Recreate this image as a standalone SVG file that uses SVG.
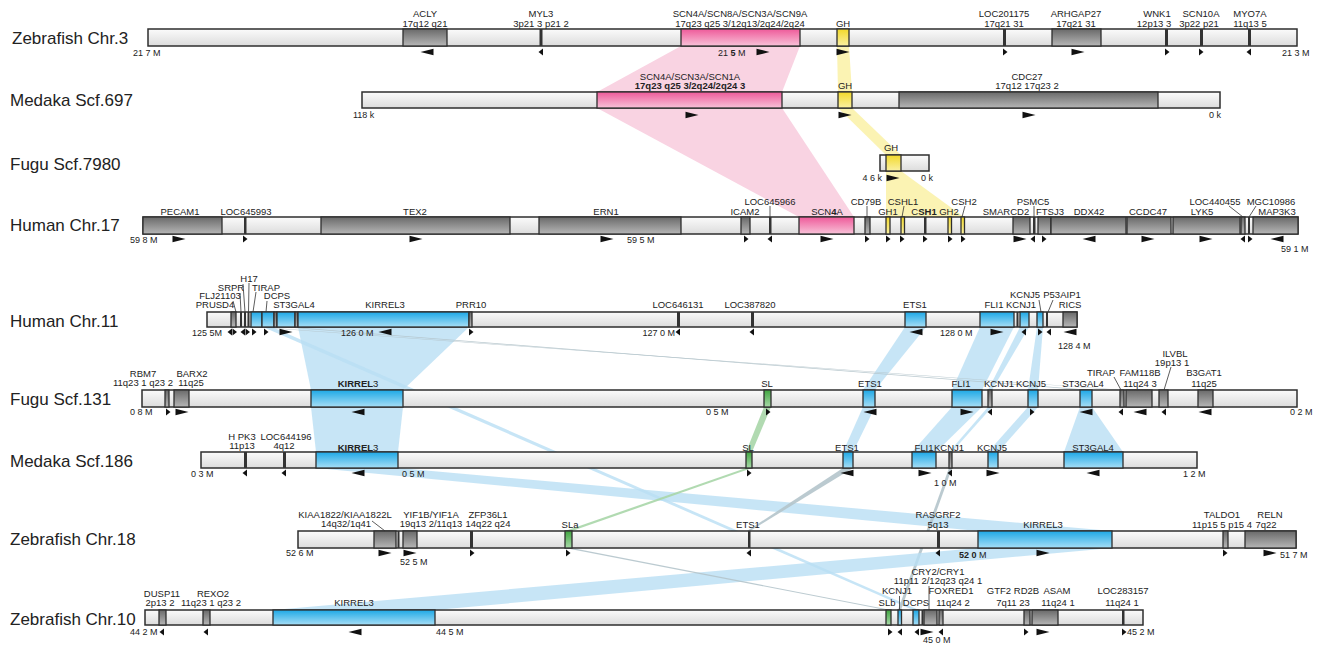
<svg xmlns="http://www.w3.org/2000/svg" width="1320" height="646" viewBox="0 0 1320 646">
<defs>
<linearGradient id="gL" x1="0" y1="0" x2="0" y2="1"><stop offset="0" stop-color="#fbfbfb"/><stop offset="1" stop-color="#dcdcdc"/></linearGradient>
<linearGradient id="gD" x1="0" y1="0" x2="0" y2="1"><stop offset="0" stop-color="#6a6a6a"/><stop offset="1" stop-color="#b6b6b6"/></linearGradient>
<linearGradient id="gP" x1="0" y1="0" x2="0" y2="1"><stop offset="0" stop-color="#ee5a9a"/><stop offset="1" stop-color="#f8c2d8"/></linearGradient>
<linearGradient id="gY" x1="0" y1="0" x2="0" y2="1"><stop offset="0" stop-color="#f2d92a"/><stop offset="1" stop-color="#faf0a2"/></linearGradient>
<linearGradient id="gB" x1="0" y1="0" x2="0" y2="1"><stop offset="0" stop-color="#1ea8e6"/><stop offset="1" stop-color="#a6def6"/></linearGradient>
<linearGradient id="gG" x1="0" y1="0" x2="0" y2="1"><stop offset="0" stop-color="#40a640"/><stop offset="1" stop-color="#a8d9a8"/></linearGradient>
<path id="ar" d="M-6.5,-3.3 L6.5,0 L-6.5,3.3 Z"/>
<path id="al" d="M6.5,-3.3 L-6.5,0 L6.5,3.3 Z"/>
<path id="sr" d="M-2,-3.5 L2.5,0 L-2,3.5 Z"/>
<path id="sl" d="M2,-3.5 L-2.5,0 L2,3.5 Z"/>
</defs>
<style>
.bar{fill:url(#gL);stroke:#2e2e2e;stroke-width:1.5}
.dk{fill:url(#gD);stroke:#2e2e2e;stroke-width:1.3}
.pk{fill:url(#gP);stroke:#2e2e2e;stroke-width:1.3}
.ye{fill:url(#gY);stroke:#2e2e2e;stroke-width:1.3}
.bl{fill:url(#gB);stroke:#2e2e2e;stroke-width:1.3}
.gn{fill:url(#gG);stroke:#2e2e2e;stroke-width:1.3}
.ln{fill:#333}
text{font-family:"Liberation Sans",Arial,sans-serif;fill:#222}
.sp{font-size:17px}
.g{font-size:9.5px;text-anchor:middle}
.s{font-size:9px}
.e{text-anchor:end}
.b{font-weight:bold}
.ld{stroke:#333;stroke-width:0.8;fill:none}
.ah{fill:#111}
.cp{fill:#f9d3e2}
.cy{fill:#fbf3b3}
.cb{fill:#b9dff4;opacity:0.8}
.cg{fill:#a9d6a9;opacity:0.9}
.cl{fill:#b4c4cb;opacity:0.9}
</style>
<rect width="1320" height="646" fill="#fff"/>

<g id="connectors">
<polygon class="cp" points="681,46 800,46 782,92 597,92"/>
<polygon class="cp" points="597,108 782,108 854,217 799,217"/>
<polygon class="cy" points="837,46 849,46 852,92 838,92"/>
<polygon class="cy" points="838,108 852,108 901,155 886,155"/>
<polygon class="cy" points="886,171 901,171 964,217 886,217"/>
<polygon class="cb" points="298,327 469,327 403,390 311,390"/>
<polygon class="cb" points="905,327 926,327 875,390 863,390"/>
<polygon class="cb" points="980,327 1014,327 982,390 952,390"/>
<polygon class="cb" points="1020,327 1029,327 992,390 988,390"/>
<polygon class="cb" points="1037,327 1043,327 1038,390 1028,390"/>
<polygon class="cl" points="282,327 291,327 1091,390 1082,390"/>
<polygon class="cl" points="253,327 260,327 1124,390 1118,390"/>
<polygon class="cb" points="263,327 272,327 919,610 913,610"/>
<polygon class="cb" points="311,407 403,407 398,452 316,452"/>
<polygon class="cb" points="863,407 875,407 853,452 843,452"/>
<polygon class="cb" points="952,407 982,407 936,452 912,452"/>
<polygon class="cb" points="988,407 992,407 952,452 949,452"/>
<polygon class="cb" points="1028,407 1038,407 998,452 988,452"/>
<polygon class="cb" points="1080,407 1092,407 1123,452 1064,452"/>
<polygon class="cg" points="764,407 771,407 752,452 746,452"/>
<polygon class="cb" points="316,468 398,468 1112,531 978,531"/>
<polygon class="cg" points="746,468 752,468 572,531 565,531"/>
<polygon class="cl" points="843,468 853,468 750,531 747,531"/>
<polygon class="cl" points="949,468 952,468 901,610 898,610"/>
<polygon class="cb" points="978,548 1112,548 435,610 273,610"/>
<polygon class="cl" points="565,548 572,548 891,610 886,610"/>
</g>

<g id="zf3">
<rect class="bar" x="148" y="29" width="1149" height="17"/>
<rect class="dk" x="403" y="29" width="44" height="17"/>
<rect class="ln" x="539.5" y="29" width="3" height="17"/>
<rect class="pk" x="681" y="29" width="119" height="17"/>
<rect class="ye" x="837" y="29" width="12" height="17"/>
<rect class="ln" x="1003" y="29" width="3" height="17"/>
<rect class="dk" x="1052" y="29" width="49" height="17"/>
<rect class="ln" x="1165" y="29" width="3" height="17"/>
<rect class="ln" x="1200" y="29" width="3" height="17"/>
<rect class="ln" x="1248" y="29" width="3" height="17"/>
<text class="sp" x="12" y="44">Zebrafish Chr.3</text>
<text class="g" x="425" y="17">ACLY</text><text class="g" x="425" y="26.5">17q12 q21</text>
<text class="g" x="541" y="17">MYL3</text><text class="g" x="541" y="26.5">3p21 3 p21 2</text>
<text class="g" x="740" y="17">SCN4A/SCN8A/SCN3A/SCN9A</text><text class="g" x="740" y="26.5">17q23 q25 3/12q13/2q24/2q24</text>
<text class="g" x="843" y="26.5">GH</text>
<text class="g" x="1004" y="17">LOC201175</text><text class="g" x="1004" y="26.5">17q21 31</text>
<text class="g" x="1076" y="17">ARHGAP27</text><text class="g" x="1076" y="26.5">17q21 31</text>
<text class="g" x="1157" y="17">WNK1</text><text class="g" x="1154" y="26.5">12p13 3</text>
<text class="g" x="1201" y="17">SCN10A</text><text class="g" x="1199" y="26.5">3p22 p21</text>
<text class="g" x="1250" y="17">MYO7A</text><text class="g" x="1250" y="26.5">11q13 5</text>
<text class="s" x="133" y="55.5">21 7 M</text>
<text class="s" x="718" y="55.5">21 <tspan class="b">5</tspan> M</text>
<text class="s" x="1282" y="55.5">21 3 M</text>
<use href="#al" class="ah" x="427" y="52"/><use href="#sl" class="ah" x="541" y="52"/><use href="#ar" class="ah" x="763" y="52"/><use href="#ar" class="ah" x="843" y="52"/><use href="#sr" class="ah" x="1005" y="52"/><use href="#ar" class="ah" x="1078" y="52"/><use href="#sr" class="ah" x="1167" y="52"/><use href="#sr" class="ah" x="1201" y="52"/><use href="#sl" class="ah" x="1249" y="52"/>
</g>

<g id="md697">
<rect class="bar" x="362" y="92" width="858" height="16"/>
<rect class="pk" x="597" y="92" width="185" height="16"/>
<rect class="ye" x="838" y="92" width="14" height="16"/>
<rect class="dk" x="899" y="92" width="259" height="16"/>
<text class="sp" x="10" y="106">Medaka Scf.697</text>
<text class="g" x="690" y="79.5">SCN4A/SCN3A/SCN1A</text><text class="g b" x="690" y="89">17q23 q25 3/2q24/2q24 3</text>
<text class="g" x="845" y="89">GH</text>
<text class="g" x="1027" y="79.5">CDC27</text><text class="g" x="1027" y="89">17q12 17q23 2</text>
<text class="s" x="353" y="118">118 k</text><text class="s" x="1209" y="118">0 k</text>
<use href="#ar" class="ah" x="692" y="115"/><use href="#ar" class="ah" x="845" y="115"/><use href="#ar" class="ah" x="1029" y="115"/>
</g>

<g id="fg7980">
<rect class="bar" x="880" y="155" width="49" height="16"/>
<rect class="ye" x="886" y="155" width="15" height="16"/>
<text class="sp" x="10" y="170">Fugu Scf.7980</text>
<text class="g" x="891" y="151">GH</text>
<text class="s e" x="882" y="181">4 6 k</text><text class="s" x="921" y="181">0 k</text>
<use href="#ar" class="ah" x="893" y="178"/>
</g>

<g id="hs17">
<rect class="bar" x="143" y="217" width="1155" height="17"/>
<rect class="dk" x="143" y="217" width="79" height="17"/>
<rect class="ln" x="244" y="217" width="2.5" height="17"/>
<rect class="dk" x="321" y="217" width="189" height="17"/>
<rect class="dk" x="539" y="217" width="142" height="17"/>
<rect class="dk" x="741" y="217" width="9" height="17"/>
<rect class="ln" x="769" y="217" width="2.5" height="17"/>
<rect class="pk" x="799" y="217" width="55" height="17"/>
<rect class="dk" x="865" y="217" width="5" height="17"/>
<rect class="ye" x="886" y="217" width="4" height="17"/>
<rect class="ye" x="901" y="217" width="3.5" height="17"/>
<rect class="ln" x="924" y="217" width="2.5" height="17"/>
<rect class="ye" x="948" y="217" width="3.5" height="17"/>
<rect class="ye" x="961" y="217" width="3.5" height="17"/>
<rect class="dk" x="1013" y="217" width="17" height="17"/>
<rect class="ln" x="1033" y="217" width="2.5" height="17"/>
<rect class="dk" x="1038" y="217" width="13" height="17"/>
<rect class="dk" x="1051" y="217" width="75" height="17"/>
<rect class="dk" x="1127" y="217" width="44" height="17"/>
<rect class="dk" x="1173" y="217" width="67" height="17"/>
<rect class="dk" x="1241" y="217" width="4" height="17"/>
<rect class="ln" x="1248" y="217" width="2" height="17"/>
<rect class="dk" x="1253" y="217" width="45" height="17"/>
<text class="sp" x="10" y="231">Human Chr.17</text>
<text class="g" x="180" y="214.5">PECAM1</text>
<text class="g" x="246" y="214.5">LOC645993</text>
<text class="g" x="415" y="214.5">TEX2</text>
<text class="g" x="606" y="214.5">ERN1</text>
<text class="g" x="745" y="214.5">ICAM2</text>
<text class="g" x="770" y="204.5">LOC645966</text>
<text class="g" x="827" y="214.5">SCN<tspan class="b">4</tspan>A</text>
<text class="g" x="866" y="204.5">CD79B</text>
<text class="g" x="888" y="214.5">GH1</text>
<text class="g" x="903" y="204.5">CSHL1</text>
<text class="g" x="924" y="214.5">C<tspan class="b">SH1</tspan></text>
<text class="g" x="949" y="214.5">GH2</text>
<text class="g" x="964" y="204.5">CSH2</text>
<text class="g" x="1006" y="214.5">SMARCD2</text>
<text class="g" x="1033" y="204.5">PSMC5</text>
<text class="g" x="1050" y="214.5">FTSJ3</text>
<text class="g" x="1089" y="214.5">DDX42</text>
<text class="g" x="1148" y="214.5">CCDC47</text>
<text class="g" x="1202" y="214.5">LYK5</text>
<text class="g" x="1215" y="204.5">LOC440455</text>
<text class="g" x="1271" y="204.5">MGC10986</text>
<text class="g" x="1277" y="214.5">MAP3K3</text>
<path class="ld" d="M770,206V217M867,206V217M904,206L902,217M965,206L962,217M1034,206V217M1229,206L1243,217M1256,206L1249,217"/>
<text class="s" x="130" y="242.5">59 8 M</text><text class="s" x="627" y="242.5">59 5 M</text><text class="s" x="1281" y="251.5">59 1 M</text>
<use href="#ar" class="ah" x="179" y="239"/><use href="#sr" class="ah" x="245" y="239"/><use href="#ar" class="ah" x="416" y="239"/><use href="#ar" class="ah" x="607" y="239"/><use href="#sr" class="ah" x="746" y="239"/><use href="#sl" class="ah" x="770" y="239"/><use href="#ar" class="ah" x="827" y="239"/><use href="#sr" class="ah" x="867" y="239"/><use href="#sr" class="ah" x="888" y="239"/><use href="#sr" class="ah" x="902" y="239"/><use href="#sr" class="ah" x="925" y="239"/><use href="#sr" class="ah" x="950" y="239"/><use href="#sr" class="ah" x="963" y="239"/><use href="#ar" class="ah" x="1020" y="239"/><use href="#sl" class="ah" x="1033" y="239"/><use href="#sr" class="ah" x="1044" y="239"/><use href="#al" class="ah" x="1089" y="239"/><use href="#ar" class="ah" x="1148" y="239"/><use href="#ar" class="ah" x="1206" y="239"/><use href="#sl" class="ah" x="1243" y="239"/><use href="#sr" class="ah" x="1250" y="239"/><use href="#al" class="ah" x="1277" y="239"/>
</g>

<g id="hs11">
<rect class="bar" x="207" y="312" width="870" height="15"/>
<rect class="dk" x="231" y="312" width="5" height="15"/>
<rect class="ln" x="240" y="312" width="2" height="15"/>
<rect class="ln" x="244" y="312" width="2" height="15"/>
<rect class="ln" x="247.5" y="312" width="2" height="15"/>
<rect class="bl" x="251" y="312" width="11" height="15"/>
<rect class="bl" x="262" y="312" width="12" height="15"/>
<rect class="dk" x="274" y="312" width="3" height="15"/>
<rect class="bl" x="277" y="312" width="18" height="15"/>
<rect class="dk" x="295" y="312" width="3" height="15"/>
<rect class="bl" x="298" y="312" width="171" height="15"/>
<rect class="dk" x="469" y="312" width="3" height="15"/>
<rect class="ln" x="677" y="312" width="3" height="15"/>
<rect class="ln" x="751" y="312" width="3" height="15"/>
<rect class="bl" x="905" y="312" width="21" height="15"/>
<rect class="bl" x="980" y="312" width="34" height="15"/>
<rect class="ln" x="1016.5" y="312" width="2" height="15"/>
<rect class="bl" x="1020" y="312" width="9" height="15"/>
<rect class="bl" x="1037" y="312" width="6" height="15"/>
<rect class="ln" x="1046" y="312" width="2" height="15"/>
<rect class="dk" x="1063" y="312" width="14" height="15"/>
<text class="sp" x="10" y="327">Human Chr.11</text>
<text class="g" x="249" y="282">H17</text>
<text class="g" x="231" y="290.5">SRPR</text>
<text class="g" x="266" y="290.5">TIRAP</text>
<text class="g" x="220" y="299">FLJ21103</text>
<text class="g" x="277" y="299">DCPS</text>
<text class="g" x="215" y="308">PRUSD4</text>
<text class="g" x="294" y="308">ST3GAL4</text>
<text class="g" x="385" y="308">KIRREL3</text>
<text class="g" x="471" y="308">PRR10</text>
<text class="g" x="678" y="308">LOC646131</text>
<text class="g" x="750" y="308">LOC387820</text>
<text class="g" x="915" y="308">ETS1</text>
<text class="g" x="994" y="308">FLI1</text>
<text class="g" x="1021" y="308">KCNJ1</text>
<text class="g" x="1025" y="298">KCNJ5</text>
<text class="g" x="1062" y="298">P53AIP1</text>
<text class="g" x="1070" y="308">RICS</text>
<path class="ld" d="M233,301L236,312M240,293L241,312M243,284L245,312M249,283L248.5,312M256,292L253,312M267,301L266,312M1039,300L1041,312M1053,300L1048,312"/>
<text class="s" x="192" y="336">125 5M</text><text class="s" x="341" y="336">126 0 M</text><text class="s e" x="675" y="336">127 0 M</text><text class="s" x="940" y="336">128 0 M</text><text class="s" x="1058" y="348.5">128 4 M</text>
<use href="#sl" class="ah" x="230" y="332"/><use href="#sr" class="ah" x="234.5" y="332"/><use href="#sl" class="ah" x="243" y="332"/><use href="#sr" class="ah" x="247.5" y="332"/><use href="#sr" class="ah" x="254" y="332"/><use href="#sr" class="ah" x="266" y="332"/><use href="#ar" class="ah" x="286" y="332"/><use href="#al" class="ah" x="385" y="332"/><use href="#sr" class="ah" x="471" y="332"/><use href="#sl" class="ah" x="678" y="332"/><use href="#sl" class="ah" x="752" y="332"/><use href="#al" class="ah" x="916" y="332"/><use href="#ar" class="ah" x="997" y="332"/><use href="#sl" class="ah" x="1024" y="332"/><use href="#sr" class="ah" x="1040" y="332"/><use href="#sl" class="ah" x="1049" y="332"/><use href="#al" class="ah" x="1070" y="332"/>
</g>

<g id="fg131">
<rect class="bar" x="142" y="390" width="1155" height="17"/>
<rect class="dk" x="165" y="390" width="4" height="17"/>
<rect class="dk" x="174" y="390" width="15" height="17"/>
<rect class="bl" x="311" y="390" width="92" height="17"/>
<rect class="gn" x="764" y="390" width="7" height="17"/>
<rect class="bl" x="863" y="390" width="12" height="17"/>
<rect class="bl" x="952" y="390" width="30" height="17"/>
<rect class="dk" x="988" y="390" width="4" height="17"/>
<rect class="bl" x="1028" y="390" width="10" height="17"/>
<rect class="bl" x="1080" y="390" width="12" height="17"/>
<rect class="dk" x="1120" y="390" width="4" height="17"/>
<rect class="dk" x="1126" y="390" width="26" height="17"/>
<rect class="dk" x="1159" y="390" width="9" height="17"/>
<rect class="dk" x="1198" y="390" width="15" height="17"/>
<text class="sp" x="10" y="405">Fugu Scf.131</text>
<text class="g" x="143" y="377">RBM7</text><text class="g" x="143" y="386">11q23 1 q23 2</text>
<text class="g" x="192" y="377">BARX2</text><text class="g" x="191" y="386">11q25</text>
<text class="g" x="358" y="387"><tspan class="b">KIRREL</tspan>3</text>
<text class="g" x="767" y="387">SL</text>
<text class="g" x="870" y="387">ETS1</text>
<text class="g" x="961" y="387">FLI1</text>
<text class="g" x="999" y="387">KCNJ1</text>
<text class="g" x="1031" y="387">KCNJ5</text>
<text class="g" x="1083" y="387">ST3GAL4</text>
<text class="g" x="1101" y="376">TIRAP</text>
<text class="g" x="1140" y="376">FAM118B</text><text class="g" x="1140" y="387">11q24 3</text>
<text class="g" x="1175" y="357">ILVBL</text><text class="g" x="1172" y="365.5">19p13 1</text>
<text class="g" x="1204" y="376">B3GAT1</text><text class="g" x="1204" y="387">11q25</text>
<path class="ld" d="M1114,377L1121,390M1171,367L1164,390"/>
<text class="s" x="130" y="415">0 8 M</text><text class="s" x="706" y="415">0 5 M</text><text class="s" x="1290" y="415">0 2 M</text>
<use href="#sr" class="ah" x="168" y="412"/><use href="#ar" class="ah" x="182" y="412"/><use href="#al" class="ah" x="358" y="412"/><use href="#sr" class="ah" x="768" y="412"/><use href="#al" class="ah" x="870" y="412"/><use href="#ar" class="ah" x="967" y="412"/><use href="#sl" class="ah" x="990" y="412"/><use href="#sr" class="ah" x="1032" y="412"/><use href="#al" class="ah" x="1086" y="412"/><use href="#sl" class="ah" x="1121" y="412"/><use href="#al" class="ah" x="1140" y="412"/><use href="#sl" class="ah" x="1164" y="412"/><use href="#al" class="ah" x="1205" y="412"/>
</g>

<g id="md186">
<rect class="bar" x="201" y="452" width="996" height="16"/>
<rect class="ln" x="244" y="452" width="3" height="16"/>
<rect class="ln" x="283" y="452" width="3" height="16"/>
<rect class="bl" x="316" y="452" width="82" height="16"/>
<rect class="gn" x="746" y="452" width="6" height="16"/>
<rect class="bl" x="843" y="452" width="10" height="16"/>
<rect class="bl" x="912" y="452" width="24" height="16"/>
<rect class="dk" x="949" y="452" width="3" height="16"/>
<rect class="bl" x="988" y="452" width="10" height="16"/>
<rect class="bl" x="1064" y="452" width="59" height="16"/>
<text class="sp" x="10" y="467">Medaka Scf.186</text>
<text class="g" x="242" y="440">H PK3</text><text class="g" x="242" y="448.5">11p13</text>
<text class="g" x="286" y="440">LOC644196</text><text class="g" x="284" y="448.5">4q12</text>
<text class="g" x="358" y="450.5"><tspan class="b">KIRREL</tspan>3</text>
<text class="g" x="748" y="450.5">SL</text>
<text class="g" x="847" y="450.5">ETS1</text>
<text class="g" x="924" y="450.5">FLI1</text>
<text class="g" x="949" y="450.5">KCNJ1</text>
<text class="g" x="992" y="450.5">KCNJ5</text>
<text class="g" x="1093" y="450.5">ST3GAL4</text>
<text class="s" x="191" y="477">0 3 M</text><text class="s" x="402" y="477">0 5 M</text><text class="s" x="934" y="486">1 0 M</text><text class="s" x="1183" y="477">1 2 M</text>
<use href="#sl" class="ah" x="245" y="473"/><use href="#sl" class="ah" x="284" y="473"/><use href="#al" class="ah" x="358" y="473"/><use href="#sr" class="ah" x="749" y="473"/><use href="#al" class="ah" x="847" y="473"/><use href="#ar" class="ah" x="925" y="473"/><use href="#sl" class="ah" x="950" y="473"/><use href="#ar" class="ah" x="993" y="473"/><use href="#al" class="ah" x="1093" y="473"/>
</g>

<g id="zf18">
<rect class="bar" x="298" y="531" width="998" height="17"/>
<rect class="dk" x="374" y="531" width="22" height="17"/>
<rect class="ln" x="397.5" y="531" width="2" height="17"/>
<rect class="dk" x="403" y="531" width="14" height="17"/>
<rect class="ln" x="470" y="531" width="3" height="17"/>
<rect class="gn" x="565" y="531" width="7" height="17"/>
<rect class="ln" x="748" y="531" width="2.5" height="17"/>
<rect class="ln" x="937" y="531" width="3" height="17"/>
<rect class="bl" x="978" y="531" width="134" height="17"/>
<rect class="dk" x="1223" y="531" width="5" height="17"/>
<rect class="dk" x="1245" y="531" width="51" height="17"/>
<text class="sp" x="10" y="545">Zebrafish Chr.18</text>
<text class="g" x="345" y="517.5">KIAA1822/KIAA1822L</text><text class="g" x="346" y="527">14q32/1q41</text>
<text class="g" x="431" y="517.5">YIF1B/YIF1A</text><text class="g" x="431" y="527">19q13 2/11q13</text>
<text class="g" x="488" y="517.5">ZFP36L1</text><text class="g" x="488" y="527">14q22 q24</text>
<text class="g" x="570" y="528">SLa</text>
<text class="g" x="748" y="527.5">ETS1</text>
<text class="g" x="938" y="517.5">RASGRF2</text><text class="g" x="938" y="527.5">5q13</text>
<text class="g" x="1043" y="527.5">KIRREL3</text>
<text class="g" x="1222" y="517.5">TALDO1</text><text class="g" x="1222" y="527.5">11p15 5 p15 4</text>
<text class="g" x="1270" y="517.5">RELN</text><text class="g" x="1266" y="527.5">7q22</text>
<path class="ld" d="M372,521L385,531"/>
<text class="s" x="286" y="555.5">52 6 M</text><text class="s" x="400" y="565">52 5 M</text><text class="s" x="959" y="558"><tspan class="b">52 0</tspan> M</text><text class="s" x="1280" y="558">51 7 M</text>
<use href="#ar" class="ah" x="385" y="553"/><use href="#ar" class="ah" x="410" y="553"/><use href="#sr" class="ah" x="472" y="553"/><use href="#sr" class="ah" x="568" y="553"/><use href="#sl" class="ah" x="749" y="553"/><use href="#sl" class="ah" x="938" y="553"/><use href="#ar" class="ah" x="1043" y="553"/><use href="#sr" class="ah" x="1225" y="553"/><use href="#ar" class="ah" x="1270" y="553"/>
</g>

<g id="zf10">
<rect class="bar" x="145" y="610" width="998" height="15"/>
<rect class="dk" x="159" y="610" width="7" height="15"/>
<rect class="dk" x="203" y="610" width="7" height="15"/>
<rect class="bl" x="273" y="610" width="162" height="15"/>
<rect class="gn" x="886" y="610" width="5" height="15"/>
<rect class="bl" x="898" y="610" width="3.5" height="15"/>
<rect class="bl" x="913" y="610" width="6" height="15"/>
<rect class="ln" x="921.5" y="610" width="2" height="15"/>
<rect class="dk" x="924" y="610" width="13" height="15"/>
<rect class="dk" x="939" y="610" width="4" height="15"/>
<rect class="dk" x="1024" y="610" width="6" height="15"/>
<rect class="dk" x="1032" y="610" width="26" height="15"/>
<rect class="ln" x="1122" y="610" width="2.5" height="15"/>
<text class="sp" x="10" y="625">Zebrafish Chr.10</text>
<text class="g" x="162" y="597">DUSP11</text><text class="g" x="160" y="606">2p13 2</text>
<text class="g" x="213" y="597">REXO2</text><text class="g" x="211" y="606">11q23 1 q23 2</text>
<text class="g" x="354" y="606">KIRREL3</text>
<text class="g" x="938" y="575">CRY2/CRY1</text><text class="g" x="938" y="584">11p11 2/12q23 q24 1</text>
<text class="g" x="897" y="594">KCNJ1</text>
<text class="g" x="887" y="606">SLb</text>
<text class="g" x="916" y="606">DCPS</text>
<text class="g" x="951" y="594">FOXRED1</text><text class="g" x="953" y="606">11q24 2</text>
<text class="g" x="1013" y="594">GTF2 RD2B</text><text class="g" x="1013" y="606">7q11 23</text>
<text class="g" x="1057" y="594">ASAM</text><text class="g" x="1058" y="606">11q24 1</text>
<text class="g" x="1123" y="594">LOC283157</text><text class="g" x="1122" y="606">11q24 1</text>
<path class="ld" d="M899.5,596V610M929,586V610"/>
<text class="s" x="130" y="635">44 2 M</text><text class="s" x="436" y="635">44 5 M</text><text class="s" x="923" y="643">45 0 M</text><text class="s" x="1127" y="635">45 2 M</text>
<use href="#sl" class="ah" x="162" y="632"/><use href="#sl" class="ah" x="206" y="632"/><use href="#al" class="ah" x="355" y="632"/><use href="#sr" class="ah" x="890" y="632"/><use href="#sl" class="ah" x="900" y="632"/><use href="#sl" class="ah" x="917" y="632"/><use href="#ar" class="ah" x="927" y="632"/><use href="#sl" class="ah" x="941" y="632"/><use href="#sr" class="ah" x="1026" y="632"/><use href="#ar" class="ah" x="1043" y="632"/><use href="#sr" class="ah" x="1124" y="632"/>
</g>
</svg>
